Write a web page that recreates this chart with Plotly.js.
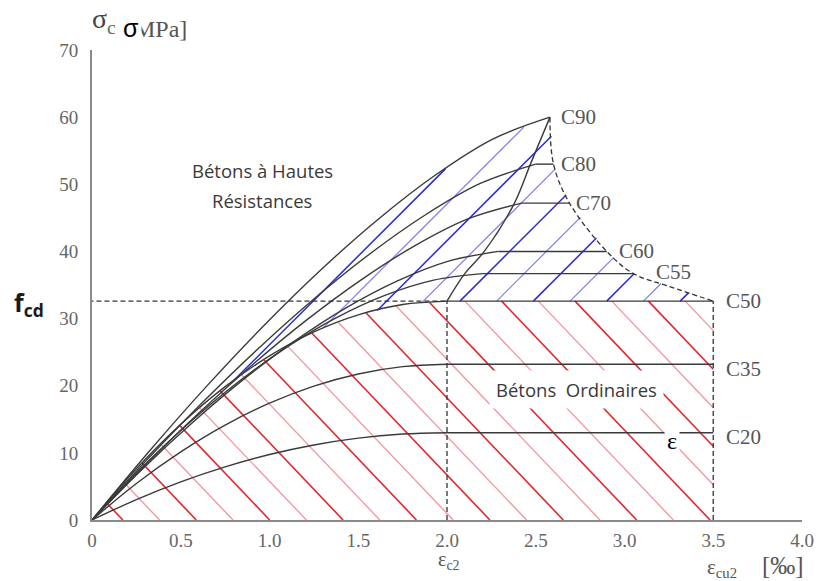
<!DOCTYPE html>
<html><head><meta charset="utf-8">
<script src="https://cdn.plot.ly/plotly-3.0.1.min.js"></script>
<style>html,body{margin:0;padding:0;background:#fff}#chart{width:818px;height:581px}</style>
</head><body><div id="chart"></div>
<script>
// ---- data (strain in ‰, stress in MPa) ----
const classNames = ['C20','C35','C50','C55','C60','C70','C80','C90'];
const strainC20 = [0,0.25,0.5,0.75,1.0,1.25,1.5,1.75,2.0,3.5];
const stressC20 = [0,3.05,5.69,7.92,9.75,11.17,12.19,12.80,13.0,13.0];
const strainC35 = [0,0.25,0.5,0.75,1.0,1.25,1.5,1.75,2.0,3.5];
const stressC35 = [0,5.44,10.15,14.14,17.4,19.94,21.75,22.84,23.2,23.2];
const strainC50 = [0,0.25,0.5,0.75,1.0,1.25,1.5,1.75,2.0,3.5];
const stressC50 = [0,7.64,14.26,19.87,24.45,28.02,30.56,32.09,32.6,32.6];
const strainC55 = [0,0.275,0.55,0.825,1.1,1.375,1.65,1.925,2.2,3.05];
const stressC55 = [0,7.65,14.51,20.58,25.79,30.11,33.46,35.73,36.7,36.7];
const strainC60 = [0,0.286,0.573,0.859,1.145,1.431,1.718,2.004,2.29,2.90];
const stressC60 = [0,7.65,14.68,21.05,26.71,31.59,35.58,38.53,40.0,40.0];
const strainC70 = [0,0.3025,0.605,0.9075,1.21,1.5125,1.815,2.1175,2.42,2.69];
const stressC70 = [0,8.26,16.01,23.21,29.80,35.70,40.79,44.84,47.2,47.2];
const strainC80 = [0,0.3125,0.625,0.9375,1.25,1.5625,1.875,2.1875,2.5,2.6];
const stressC80 = [0,9.04,17.57,25.55,32.92,39.58,45.39,50.12,53.0,53.0];
const strainC90 = [0,0.3225,0.645,0.9675,1.29,1.6125,1.935,2.2575,2.58];
const stressC90 = [0,10.23,19.90,28.93,37.27,44.80,51.38,56.74,60.0];
// locus of the peaks and envelope of the ultimate strains
const strainPeak = [2.0,2.10,2.21,2.38,2.47,2.58];
const stressPeak = [32.6,36.7,40.0,47.2,53.0,60.0];
const strainEnv = [2.58,2.60,2.69,2.90,3.05,3.25,3.5];
const stressEnv = [60.0,53.0,47.2,40.0,36.7,34.8,32.6];
const fcd = 32.6, epsC2 = 2.0, epsCU2 = 3.5;
const xTickVals = [0,0.5,1.0,1.5,2.0,2.5,3.0,3.5,4.0];
const xTickText = ['0','0.5','1.0','1.5','2.0','2.5','3.0','3.5','4.0'];
const yTickVals = [0,10,20,30,40,50,60,70];
const yTickText = ['0','10','20','30','40','50','60','70'];

const series = {
  C20:[strainC20,stressC20], C35:[strainC35,stressC35], C50:[strainC50,stressC50],
  C55:[strainC55,stressC55], C60:[strainC60,stressC60], C70:[strainC70,stressC70],
  C80:[strainC80,stressC80], C90:[strainC90,stressC90]
};

// ---- layout geometry ----
const L=92, T=50, W=710, H=470;
const XR=[0,4.0], YR=[0,70];
function toPx(e,s){return [L+(e-XR[0])/(XR[1]-XR[0])*W, T+(YR[1]-s)/(YR[1]-YR[0])*H];}
function toData(x,y){return [XR[0]+(x-L)/W*(XR[1]-XR[0]), YR[1]-(y-T)/H*(YR[1]-YR[0])];}

// hatch lines clipped to a polygon (computed in screen space)
function hatch(polyE, polyS, slope, dir, anchorE, anchorS, spacing){
  const pts = polyE.map((e,i)=>toPx(e,polyS[i]));
  const ny = -dir/slope;
  const f = p => p[0] + ny*p[1];
  const c0 = f(toPx(anchorE,anchorS));
  const vals = pts.map(f);
  const mn = Math.min(...vals), mx = Math.max(...vals);
  const kmin = Math.ceil((mn-c0)/spacing), kmax = Math.floor((mx-c0)/spacing);
  const out = [{x:[],y:[]},{x:[],y:[]}];
  for(let k=kmin;k<=kmax;k++){
    const c = c0 + k*spacing, hits=[];
    for(let i=0;i<pts.length;i++){
      const p=pts[i], q=pts[(i+1)%pts.length];
      const fp=f(p)-c, fq=f(q)-c;
      if((fp<0&&fq>=0)||(fp>=0&&fq<0)){
        const t=fp/(fp-fq);
        hits.push([p[0]+t*(q[0]-p[0]), p[1]+t*(q[1]-p[1])]);
      }
    }
    hits.sort((u,v)=>u[0]-v[0]);
    const o = out[((k%2)+2)%2];
    for(let j=0;j+1<hits.length;j+=2){
      const d1=toData(hits[j][0],hits[j][1]), d2=toData(hits[j+1][0],hits[j+1][1]);
      o.x.push(d1[0],d2[0],null); o.y.push(d1[1],d2[1],null);
    }
  }
  return out;
}

const traces = [];
// red region: under the C50 curve
const redE = strainC50.concat([epsCU2]);
const redS = stressC50.concat([0]);
const red = hatch(redE, redS, 1.05, +1, 0.174, 0, 36.7);
traces.push({x:red[0].x,y:red[0].y,mode:'lines',line:{color:'#e3262e',width:1.6},hoverinfo:'skip'});
traces.push({x:red[1].x,y:red[1].y,mode:'lines',line:{color:'#f3949b',width:1.3},hoverinfo:'skip'});
// blue region: between C90 and C50, bounded by the envelope
const blueE = strainC90.concat(strainEnv.slice(1), strainC50.slice(0,9).reverse());
const blueS = stressC90.concat(stressEnv.slice(1), stressC50.slice(0,9).reverse());
const blue = hatch(blueE, blueS, 1.0, -1, 2.90, fcd, 36.7);
traces.push({x:blue[0].x,y:blue[0].y,mode:'lines',line:{color:'#2b2bd0',width:1.5},hoverinfo:'skip'});
traces.push({x:blue[1].x,y:blue[1].y,mode:'lines',line:{color:'#7c7cee',width:1.2},hoverinfo:'skip'});

// curves
const curveLine = {color:'#3a3a3a',width:1.4};
classNames.forEach(n=>{
  const [e,s]=series[n];
  traces.push({x:e.slice(0,9),y:s.slice(0,9),mode:'lines',line:Object.assign({shape:'spline'},curveLine),hoverinfo:'skip'});
  if(e.length>9) traces.push({x:e.slice(8),y:s.slice(8),mode:'lines',line:curveLine,hoverinfo:'skip'});
});
traces.push({x:strainPeak,y:stressPeak,mode:'lines',line:Object.assign({shape:'spline'},curveLine),hoverinfo:'skip'});
const dashLine = {color:'#333',width:1.3,dash:'5px,3px'};
traces.push({x:strainEnv,y:stressEnv,mode:'lines',line:Object.assign({shape:'spline'},dashLine),hoverinfo:'skip'});
traces.push({x:[-0.02,epsC2],y:[fcd,fcd],mode:'lines',line:dashLine,hoverinfo:'skip',cliponaxis:false});
traces.push({x:[epsC2,epsC2],y:[0,fcd],mode:'lines',line:dashLine,hoverinfo:'skip'});
traces.push({x:[epsCU2,epsCU2],y:[0,fcd],mode:'lines',line:dashLine,hoverinfo:'skip'});

// annotations
function ann(text,x,y,font,extra){
  return Object.assign({text:text,xref:'paper',yref:'paper',x:(x-L)/W,y:(T+H-y)/H,
    xanchor:'center',yanchor:'middle',showarrow:false,font:font},extra||{});
}
const serifGray = {family:'Liberation Serif',size:21,color:'#555'};
const sans = {family:'Open Sans',size:18.5,color:'#3a3a3a'};
const labelPos = {C90:[578,117],C80:[578,164],C70:[593,203],C60:[636,251],C55:[673,272],C50:[743,301],C35:[743,369],C20:[743,437]};
const annotations = classNames.map(n=>ann(n,labelPos[n][0],labelPos[n][1],serifGray));
annotations.push(ann('σ<sub><span style="color:#4a7a4a">c</span></sub>',104,20,{family:'Liberation Serif',size:28,color:'#444'}));
annotations.push(ann('[MPa]',156,29,{family:'Liberation Serif',size:24,color:'#555'}));
annotations.push(ann('σ',131,28,{family:'Liberation Sans',size:25,color:'#000'},{bgcolor:'#fff',borderpad:2}));
annotations.push(ann('<b>f<sub>cd</sub></b>',29,303,{family:'Open Sans',size:25,color:'#1a1a1a'}));
annotations.push(ann('Bétons à Hautes',262,170,sans));
annotations.push(ann('Résistances',262,201,sans));
annotations.push(ann('Bétons  Ordinaires',576,389,sans,{bgcolor:'#fff',borderpad:6}));
annotations.push(ann('ε',672,441,{family:'Liberation Serif',size:24,color:'#000'},{bgcolor:'#fff',borderpad:2}));
annotations.push(ann('ε<sub>c2</sub>',449,560,{family:'Liberation Serif',size:20,color:'#555'},{borderpad:0}));
annotations.push(ann('ε<sub>cu2</sub>',722,568,{family:'Liberation Serif',size:21,color:'#555'}));
annotations.push(ann('[‰]',783,565,{family:'Liberation Serif',size:25,color:'#555'}));

const axisCommon = {showline:true,linecolor:'#8a8a8a',linewidth:2,showgrid:false,zeroline:false,ticks:'',
  tickfont:{family:'Liberation Serif',size:19,color:'#666'},fixedrange:true};
const layout = {
  width:818,height:581,margin:{l:L,r:818-L-W,t:T,b:581-T-H},
  paper_bgcolor:'#fff',plot_bgcolor:'#fff',showlegend:false,
  xaxis:Object.assign({range:XR,tickmode:'array',tickvals:xTickVals,ticktext:xTickText,ticklabelstandoff:2},axisCommon),
  yaxis:Object.assign({range:YR,tickmode:'array',tickvals:yTickVals,ticktext:yTickText,ticklabelstandoff:8},axisCommon),
  annotations:annotations
};
Plotly.newPlot('chart',traces,layout,{displayModeBar:false,staticPlot:true});
</script></body></html>
